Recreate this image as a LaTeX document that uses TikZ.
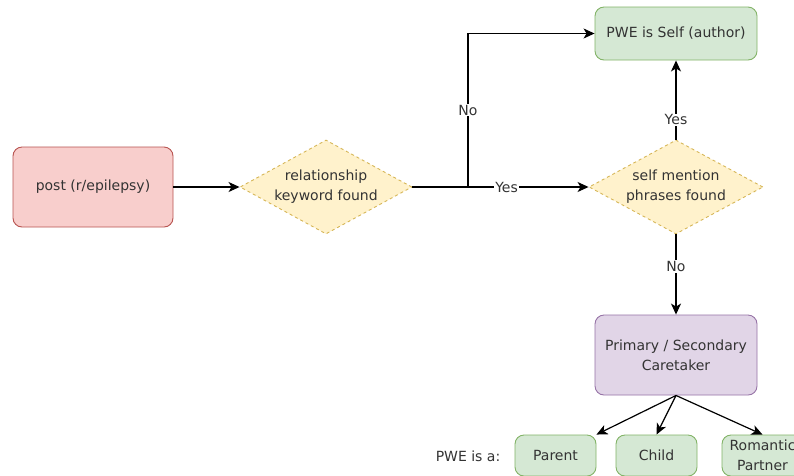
\documentclass[tikz,border=0pt]{standalone}
\usepackage{fontspec}
\setmainfont{DejaVu Sans}
\usetikzlibrary{arrows.meta}
\usetikzlibrary{shapes.geometric}
\definecolor{postfill}{HTML}{F8CECC}
\definecolor{postline}{HTML}{B85450}
\definecolor{askfill}{HTML}{FFF2CC}
\definecolor{askline}{HTML}{D6B656}
\definecolor{pwefill}{HTML}{D5E8D4}
\definecolor{pweline}{HTML}{82B366}
\definecolor{carefill}{HTML}{E1D5E7}
\definecolor{careline}{HTML}{9673A6}
\definecolor{inkgray}{HTML}{333333}
\tikzset{
 box/.style={draw, rounded corners=9pt, line width=0.9pt, align=center,
  text=inkgray, font=\fontsize{14}{20}\selectfont, inner sep=0pt},
 ask/.style={diamond, draw=askline, fill=askfill, dashed, line width=0.9pt, shape aspect=1.83,
  align=center, text=inkgray, font=\fontsize{14}{20}\selectfont, inner sep=0pt},
 flow/.style={draw=black, line width=1.2pt, -{Stealth[length=11pt,width=10pt,inset=3pt]}},
 lbl/.style={fill=white, inner sep=1pt, text=inkgray, font=\fontsize{14}{16}\selectfont}
}

\begin{document}
\begin{tikzpicture}[x=1pt,y=-1pt]
\clip (0,0) rectangle (794,475);
\fill[white] (0,0) rectangle (794,475);
% boxes
\node[box, fill=postfill, draw=postline, minimum width=160pt, minimum height=80pt] (post) at (93,187) {post (r/epilepsy)};
\node[ask, minimum width=172pt, minimum height=94pt] (rel) at (326,187) {relationship\\keyword found};
\node[ask, minimum width=174pt, minimum height=94pt] (self) at (676,187) {self mention\\phrases found};
\node[box, fill=pwefill, draw=pweline, minimum width=162pt, minimum height=53pt] (author) at (676,33.5) {PWE is Self (author)};
\node[box, fill=carefill, draw=careline, minimum width=162pt, minimum height=80pt] (care) at (676,355) {Primary / Secondary\\Caretaker};
\node[box, fill=pwefill, draw=pweline, minimum width=81pt, minimum height=41pt] (parent) at (555.5,455.5) {Parent};
\node[box, fill=pwefill, draw=pweline, minimum width=81pt, minimum height=41pt] (child) at (656.5,455.5) {Child};
\node[box, fill=pwefill, draw=pweline, minimum width=81pt, minimum height=41pt] (partner) at (762.5,455.5) {Romantic\\Partner};
\node[text=inkgray, font=\fontsize{14}{16}\selectfont] (isa) at (468,456) {PWE is a:};
\coordinate (split) at (468,187);
% connectors
\draw[flow] (post) -- (rel);
\draw[line width=1.2pt] (rel.east) -- (split);
\draw[flow] (split) |- node[lbl, pos=0.25] {No} (author.west);
\draw[flow] (split) -- node[lbl, pos=0.32] {Yes} (self.west);
\draw[flow] (self.north) -- node[lbl, pos=0.25] {Yes} (author.south);
\draw[flow] (self.south) -- node[lbl, pos=0.4] {No} (care.north);
\foreach \kin/\spot in {parent/north east, child/north, partner/north} {
 \draw[flow] (care.south) -- (\kin.\spot);
}
\end{tikzpicture}
\end{document}
